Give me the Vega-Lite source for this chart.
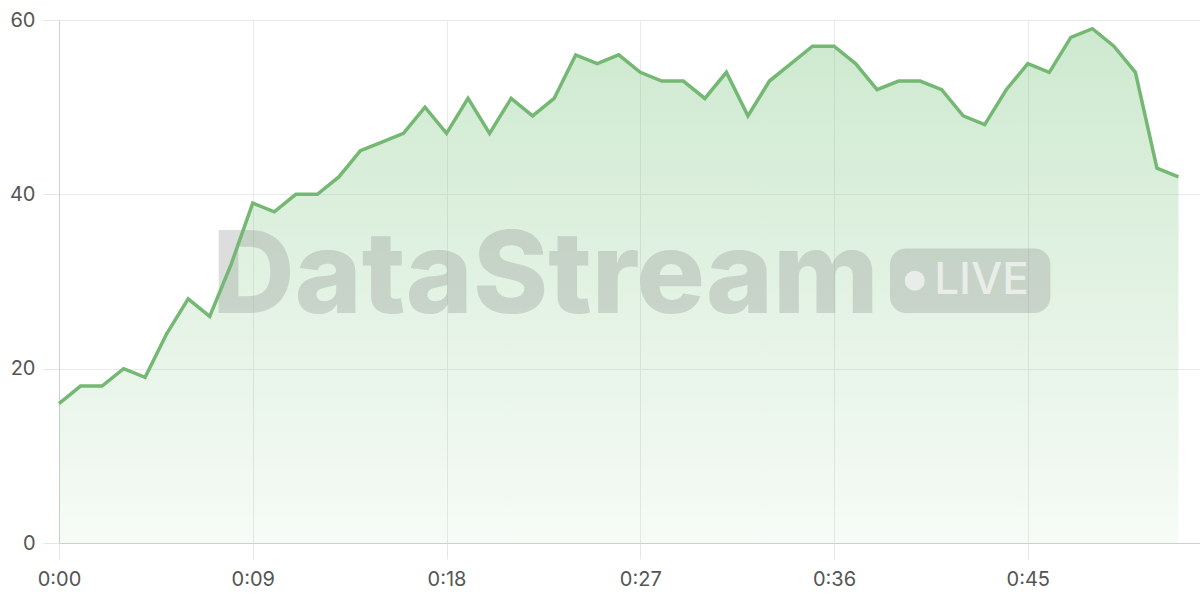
{
  "$schema": "https://vega.github.io/schema/vega-lite/v6.json",
  "autosize": "none",
  "width": 1141,
  "height": 523,
  "padding": {"left": 59, "top": 20, "right": 0, "bottom": 57},
  "background": "white",
  "config": {
    "font": "Inter",
    "view": {"stroke": null},
    "axis": {
      "labelFont": "Inter",
      "labelFontSize": 20,
      "labelColor": "#555555",
      "labelFlush": false,
      "labelOverlap": false,
      "gridColor": "#eaeaea",
      "tickColor": "#e6e6e6",
      "domainColor": "#d0d0d0",
      "ticks": true,
      "tickSize": 16,
      "title": null
    }
  },
  "data": {
    "values": [
      {"t": 0, "v": 16}, {"t": 1, "v": 18}, {"t": 2, "v": 18}, {"t": 3, "v": 20},
      {"t": 4, "v": 19}, {"t": 5, "v": 24}, {"t": 6, "v": 28}, {"t": 7, "v": 26},
      {"t": 8, "v": 32}, {"t": 9, "v": 39}, {"t": 10, "v": 38}, {"t": 11, "v": 40},
      {"t": 12, "v": 40}, {"t": 13, "v": 42}, {"t": 14, "v": 45}, {"t": 15, "v": 46},
      {"t": 16, "v": 47}, {"t": 17, "v": 50}, {"t": 18, "v": 47}, {"t": 19, "v": 51},
      {"t": 20, "v": 47}, {"t": 21, "v": 51}, {"t": 22, "v": 49}, {"t": 23, "v": 51},
      {"t": 24, "v": 56}, {"t": 25, "v": 55}, {"t": 26, "v": 56}, {"t": 27, "v": 54},
      {"t": 28, "v": 53}, {"t": 29, "v": 53}, {"t": 30, "v": 51}, {"t": 31, "v": 54},
      {"t": 32, "v": 49}, {"t": 33, "v": 53}, {"t": 34, "v": 55}, {"t": 35, "v": 57},
      {"t": 36, "v": 57}, {"t": 37, "v": 55}, {"t": 38, "v": 52}, {"t": 39, "v": 53},
      {"t": 40, "v": 53}, {"t": 41, "v": 52}, {"t": 42, "v": 49}, {"t": 43, "v": 48},
      {"t": 44, "v": 52}, {"t": 45, "v": 55}, {"t": 46, "v": 54}, {"t": 47, "v": 58},
      {"t": 48, "v": 59}, {"t": 49, "v": 57}, {"t": 50, "v": 54}, {"t": 51, "v": 43},
      {"t": 52, "v": 42}
    ]
  },
  "layer": [
    {
      "mark": {
        "type": "area",
        "color": {
          "gradient": "linear",
          "x1": 0, "y1": 0, "x2": 0, "y2": 1,
          "stops": [
            {"offset": 0, "color": "rgba(102,187,106,0.32)"},
            {"offset": 1, "color": "rgba(102,187,106,0.06)"}
          ]
        }
      },
      "encoding": {
        "x": {
          "field": "t",
          "type": "quantitative",
          "scale": {"domain": [0, 53], "nice": false, "zero": false},
          "axis": {
            "values": [0, 9, 18, 27, 36, 45],
            "labelExpr": "'0:' + (datum.value < 10 ? '0' : '') + datum.value",
            "labelAlign": "center",
            "labelPadding": 10,
            "grid": true
          }
        },
        "y": {
          "field": "v",
          "type": "quantitative",
          "scale": {"domain": [0, 60], "nice": false},
          "axis": {"values": [0, 20, 40, 60], "labelAlign": "right", "labelBaseline": "middle", "labelPadding": 8, "grid": true}
        }
      }
    },
    {
      "data": {"values": [{"label": "DataStream"}]},
      "mark": {
        "type": "text",
        "font": "Inter",
        "fontWeight": 800,
        "fontSize": 114,
        "align": "center",
        "baseline": "alphabetic",
        "fill": "#808080",
        "fillOpacity": 0.27
      },
      "encoding": {"text": {"field": "label"}, "x": {"datum": 22.6}, "y": {"datum": 26.4}}
    },
    {
      "data": {"values": [{"label": "LIVE"}]},
      "layer": [
        {
          "mark": {"type": "rect", "cornerRadius": 16, "fill": "#808080", "fillOpacity": 0.27},
          "encoding": {
            "x": {"datum": 38.6},
            "x2": {"datum": 46.05},
            "y": {"datum": 33.8},
            "y2": {"datum": 26.4}
          }
        },
        {
          "mark": {"type": "point", "shape": "circle", "filled": true, "size": 400, "fill": "white", "fillOpacity": 0.6, "strokeWidth": 0},
          "encoding": {"x": {"datum": 39.75}, "y": {"datum": 30.1}}
        },
        {
          "mark": {
            "type": "text",
            "font": "Inter",
            "fontWeight": 500,
            "fontSize": 44,
            "align": "left",
            "baseline": "middle",
            "fill": "white",
            "fillOpacity": 0.6
          },
          "encoding": {"text": {"field": "label"}, "x": {"datum": 40.65}, "y": {"datum": 30.1}}
        }
      ]
    },
    {
      "mark": {"type": "line", "color": "#74b874", "strokeWidth": 3.5, "strokeJoin": "miter"},
      "encoding": {
        "x": {"field": "t", "type": "quantitative"},
        "y": {"field": "v", "type": "quantitative"}
      }
    }
  ]
}
